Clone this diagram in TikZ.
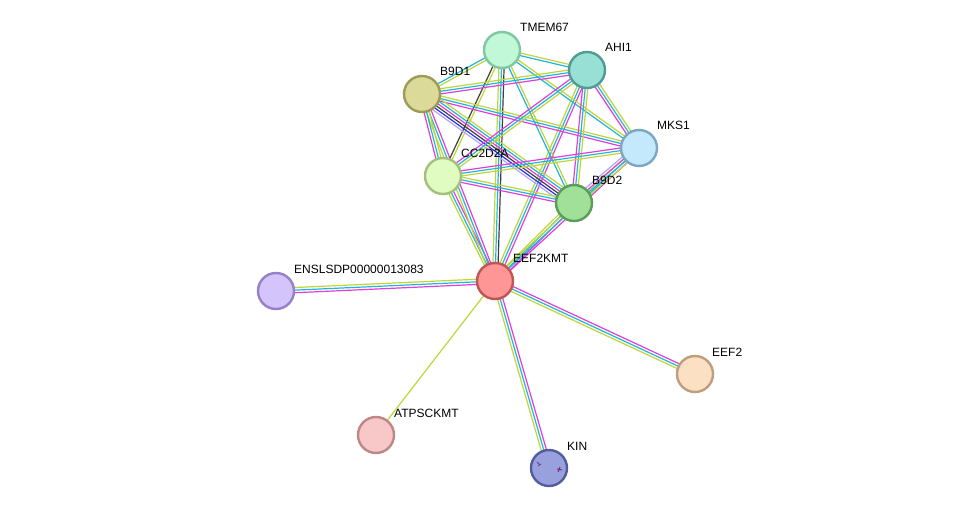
\documentclass[tikz,border=0pt]{standalone}
\usepackage{fontspec}
\setmainfont{Liberation Sans}
\usetikzlibrary{calc}
\pgfdeclarelayer{paper}
\pgfdeclarelayer{background}
\pgfsetlayers{paper,background,main}
\definecolor{em}{HTML}{DD3FDD}
\definecolor{db}{HTML}{22B6D6}
\definecolor{tm}{HTML}{BFD63A}
\definecolor{co}{HTML}{404040}
\definecolor{bl}{HTML}{2D2DF0}
\definecolor{hm}{HTML}{AFA6FA}
\definecolor{kmA}{HTML}{783C8C}
\definecolor{kmB}{HTML}{782864}
\newcommand{\edg}[4]{%
  \foreach \c [count=\i] in {#4}{%
    \pgfmathsetmacro\o{(\i-(#3+1)/2)*2.6}%
    \draw[\c,line width=1.2pt] ($(#1.center)!\o pt!90:(#2.center)$) -- ($(#2.center)!\o pt!-90:(#1.center)$);
  }%
}
\tikzset{
  prot/.style={circle,minimum size=36pt,inner sep=0pt,line width=2.4pt},
  lab/.style={anchor=base west,inner sep=0pt,font=\fontsize{12}{14}\selectfont}
}
\begin{document}
\begin{tikzpicture}[x=1pt,y=-1pt]
\begin{pgfonlayer}{paper}
\fill[white] (0,0) rectangle (975,513);
\end{pgfonlayer}
\useasboundingbox (0,0) rectangle (975,513);
\node[prot,fill={rgb,255:red,192;green,248;blue,216},draw={rgb,255:red,128;green,200;blue,160}] (tmem) at (502,50) {};
\node[prot,fill={rgb,255:red,152;green,224;blue,214},draw={rgb,255:red,80;green,156;blue,148}] (ahi) at (587,70) {};
\node[prot,fill={rgb,255:red,220;green,218;blue,152},draw={rgb,255:red,156;green,156;blue,88}] (b9d1) at (422,94) {};
\node[prot,fill={rgb,255:red,196;green,232;blue,252},draw={rgb,255:red,124;green,166;blue,196}] (mks) at (639,148) {};
\node[prot,fill={rgb,255:red,224;green,252;blue,192},draw={rgb,255:red,160;green,192;blue,124}] (cc2) at (443,176) {};
\node[prot,fill={rgb,255:red,160;green,224;blue,152},draw={rgb,255:red,90;green,156;blue,88}] (b9d2) at (574,203) {};
\node[prot,fill={rgb,255:red,255;green,150;blue,150},draw={rgb,255:red,190;green,86;blue,86}] (eef2kmt) at (495,281) {};
\node[prot,fill={rgb,255:red,212;green,196;blue,252},draw={rgb,255:red,150;green,128;blue,200}] (ens) at (276,291) {};
\node[prot,fill={rgb,255:red,252;green,224;blue,196},draw={rgb,255:red,190;green,158;blue,124}] (eef2) at (695,374) {};
\node[prot,fill={rgb,255:red,248;green,200;blue,200},draw={rgb,255:red,190;green,134;blue,134}] (atp) at (376,435) {};
\node[prot,fill={rgb,255:red,152;green,160;blue,222},draw={rgb,255:red,84;green,92;blue,156}] (kin) at (549,468) {};
\draw[kmA,line width=0.8pt] (537,462) -- (540,465) (538,466) -- (541,464);
\draw[kmB,line width=0.9pt] (558,472) -- (560,467) (557,469) -- (562,470);
\begin{pgfonlayer}{background}
\edg{eef2kmt}{ens}{3}{tm,db,em}
\edg{eef2kmt}{eef2}{3}{tm,db,em}
\edg{eef2kmt}{atp}{1}{tm}
\edg{eef2kmt}{kin}{3}{tm,db,em}
\edg{eef2kmt}{cc2}{3}{em,db,tm}
\edg{eef2kmt}{b9d1}{3}{em,db,tm}
\edg{eef2kmt}{tmem}{3}{co,db,tm}
\edg{eef2kmt}{ahi}{3}{em,db,tm}
\edg{eef2kmt}{b9d2}{3}{em,db,tm}
\edg{eef2kmt}{mks}{3}{em,db,tm}
\edg{tmem}{ahi}{2}{db,tm}
\edg{tmem}{b9d1}{2}{db,tm}
\edg{tmem}{mks}{2}{db,tm}
\edg{tmem}{b9d2}{2}{db,tm}
\edg{tmem}{cc2}{2}{co,tm}
\edg{b9d1}{ahi}{3}{em,db,tm}
\edg{b9d1}{mks}{3}{em,db,tm}
\edg{b9d1}{b9d2}{6}{hm,bl,co,em,db,tm}
\edg{b9d1}{cc2}{3}{em,db,tm}
\edg{ahi}{mks}{3}{em,db,tm}
\edg{ahi}{b9d2}{3}{em,db,tm}
\edg{ahi}{cc2}{3}{em,db,tm}
\edg{mks}{cc2}{3}{em,db,tm}
\edg{mks}{b9d2}{4}{hm,em,db,tm}
\edg{cc2}{b9d2}{3}{em,db,tm}
\end{pgfonlayer}
\node[lab] (l1) at (520,32) {TMEM67};
\node[lab] (l2) at (605,52) {AHI1};
\node[lab] (l3) at (440,76) {B9D1};
\node[lab] (l4) at (657,130) {MKS1};
\node[lab] (l5) at (461,158) {CC2D2A};
\node[lab] (l6) at (592,185) {B9D2};
\node[lab] (l7) at (513,263) {EEF2KMT};
\node[lab] (l8) at (294,273) {ENSLSDP00000013083};
\node[lab] (l9) at (712,356) {EEF2};
\node[lab] (l10) at (394,417) {ATPSCKMT};
\node[lab] (l11) at (567,450) {KIN};
\end{tikzpicture}
\end{document}
